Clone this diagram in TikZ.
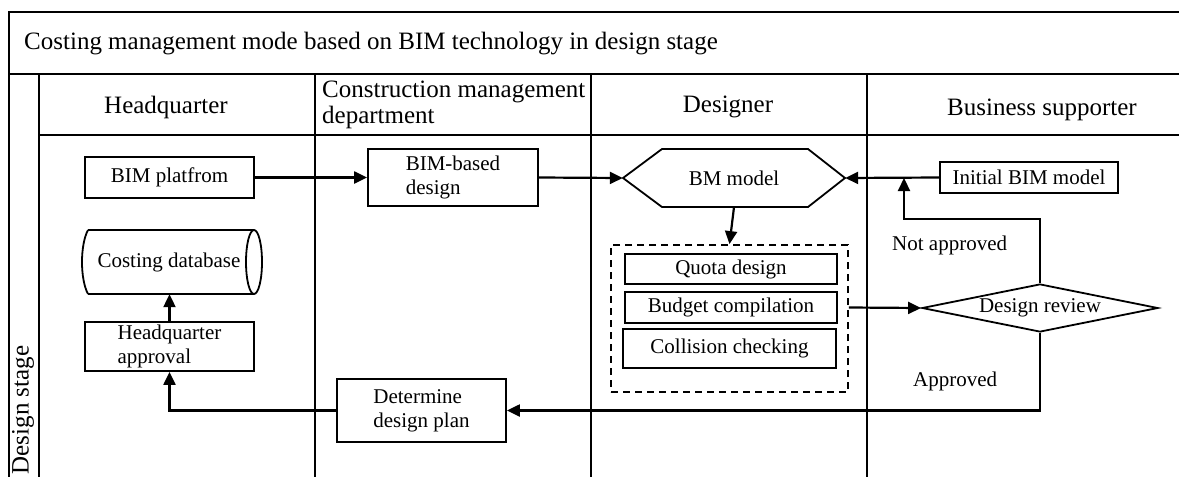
\documentclass[tikz,border=0pt]{standalone}
\usepackage{fontspec}
\setmainfont{Liberation Serif}
\usetikzlibrary{arrows.meta,shapes.geometric}

\begin{document}
\begin{tikzpicture}[x=1pt,y=-1pt,
  frame/.style={line width=2.2pt},
  box/.style={draw,line width=1.8pt,font=\fontsize{21}{24}\selectfont,inner sep=0pt,align=left},
  plain/.style={inner sep=0pt,font=\fontsize{21}{24}\selectfont,align=left},
  head/.style={font=\fontsize{25}{26}\selectfont,inner sep=0pt,align=left},
  lbl/.style={font=\fontsize{21}{24}\selectfont,inner sep=0pt},
  flow/.style={line width=2.2pt,-{Triangle[length=13pt,width=12pt]}},
]
\useasboundingbox (0,0) rectangle (1179,477);

% swimlane frame
\draw[frame] (1179,12) -- (9,12) -- (9,477);
\draw[frame] (9,74) -- (1179,74);
\draw[frame] (39,135) -- (1179,135);
\foreach \lx in {39,315,591,867} \draw[frame] (\lx,74) -- (\lx,477);

% titles and lane headers
\node[head,anchor=base west] (title) at (24,49) {Costing management mode based on BIM technology in design stage};
\node[head,anchor=base] (hq) at (166,113) {Headquarter};
\node[head,anchor=west] (cmd) at (322,105) {Construction management\\department};
\node[head,anchor=base] (des) at (728,112) {Designer};
\node[head,anchor=base] (bus) at (1042,115) {Business supporter};
\node[head,rotate=90] (stage) at (23,410) {Design stage};

% headquarter lane
\node[box,minimum width=169pt,minimum height=41pt] (plat) at (169.5,177.5) {BIM platfrom};
\node[plain,minimum width=170pt,minimum height=64pt] (db) at (169,262) {Costing database};
\draw[line width=1.8pt] (88,230) -- (254,230) (88,294) -- (254,294);
\draw[line width=1.8pt] (254,262) ellipse [x radius=8, y radius=32];
\draw[line width=1.8pt] (88,230) .. controls (80,245) and (80,279) .. (88,294);
\node[box,minimum width=169pt,minimum height=49pt] (hqa) at (169.5,346.5) {Headquarter\\approval};

% construction management lane
\node[box,minimum width=170pt,minimum height=57pt] (bbd) at (453,177.5) {BIM-based\\design};
\node[box,minimum width=169pt,minimum height=63pt] (ddp) at (421.5,410.5) {Determine\\design plan};

% designer lane
\node[plain,minimum width=222pt,minimum height=58pt] (bm) at (734,178) {BM model};
\draw[line width=1.8pt] (623,178) -- (662,149) -- (808,149) -- (845,178) -- (808,207) -- (662,207) -- cycle;
\node[draw,line width=1.8pt,dash pattern=on 7pt off 5pt,minimum width=237pt,minimum height=147pt,inner sep=0pt] (grp) at (729.5,318.5) {};
\node[box,minimum width=212pt,minimum height=30pt] (quota) at (731,269) {Quota design};
\node[box,minimum width=212pt,minimum height=31pt] (budget) at (731,307.5) {Budget compilation};
\node[box,minimum width=213pt,minimum height=39pt] (coll) at (729.5,348.5) {Collision checking};

% business supporter lane
\node[box,minimum width=178pt,minimum height=31pt] (init) at (1029,177.5) {Initial BIM model};
\node[draw,diamond,line width=1.8pt,aspect=5,minimum width=236pt,minimum height=48pt,inner sep=0pt,font=\fontsize{21}{24}\selectfont] (rev) at (1040,308) {Design review};
\coordinate (nbend) at (904,219);
\coordinate (njoin) at (904,178);
\node[lbl,anchor=base west] (nap) at (892,250) {Not approved};
\node[lbl,anchor=base west] (ap) at (913,386) {Approved};

% connectors
\draw[flow] (plat.east) -- (bbd.west);
\draw[flow] (bbd.east) -- (bm.west);
\draw[flow] (init.west) -- (bm.east);
\draw[flow] (bm.south) -- (grp.north);
\draw[flow] (grp.east |- budget) -- (rev.west);
\draw[flow] (rev.north) |- (nbend) -- (njoin);
\draw[flow] (rev.south) |- (ddp.east);
\draw[flow] (ddp.west) -| (hqa.south);
\draw[flow] (hqa.north) -- (hqa.north |- db.south);
\end{tikzpicture}
\end{document}
